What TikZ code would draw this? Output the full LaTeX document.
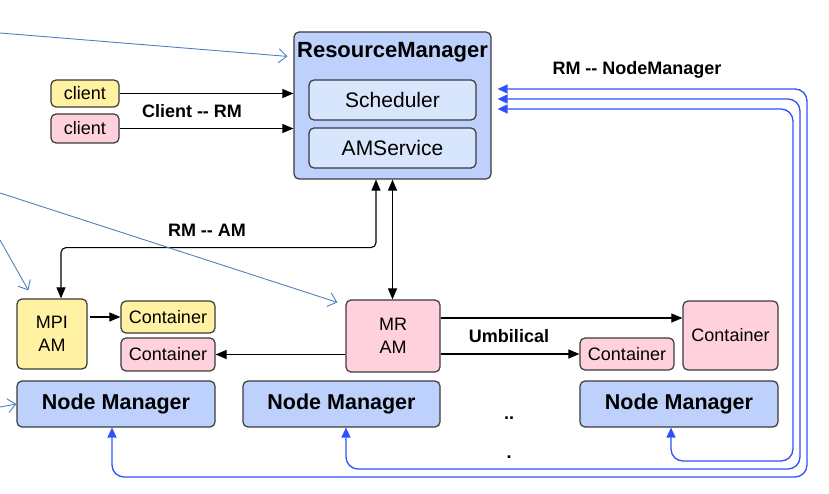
\documentclass[tikz,border=0pt]{standalone}
\usepackage{fontspec}
\setmainfont{Liberation Sans}
\usetikzlibrary{arrows.meta}
\definecolor{rmfill}{HTML}{BED0FC}
\definecolor{subfill}{HTML}{D8E6FD}
\definecolor{yel}{HTML}{FFF2A3}
\definecolor{pnk}{HTML}{FFD1DC}
\definecolor{bord}{HTML}{3A3A3A}
\definecolor{nmblue}{HTML}{2F50FF}
\definecolor{anno}{HTML}{4F81BD}
\begin{document}
\begin{tikzpicture}[x=1pt,y=-1pt,
  box/.style={draw=bord, line width=1.2pt, rounded corners=5pt, inner sep=0pt, align=center, anchor=center},
  rmbox/.style={box, fill=rmfill},
  subbox/.style={box, fill=subfill, font=\fontsize{21}{24}\selectfont},
  ybox/.style={box, fill=yel, font=\fontsize{18}{23}\selectfont},
  pbox/.style={box, fill=pnk, font=\fontsize{18}{23}\selectfont},
  nmbox/.style={box, fill=rmfill, font=\fontsize{21.5}{24}\selectfont\bfseries},
  lbl/.style={inner sep=0pt, font=\fontsize{18}{21}\selectfont\bfseries},
  arr/.style={draw=black, line width=1.1pt, -{Triangle[length=11pt,width=9pt]}},
  arrb/.style={draw=black, line width=1.1pt, {Triangle[length=11pt,width=9pt]}-{Triangle[length=11pt,width=9pt]}},
  bl/.style={draw=nmblue, line width=1.3pt, rounded corners=12pt, {Triangle[length=10pt,width=9pt]}-{Triangle[length=10pt,width=9pt]}},
  an/.style={draw=anno, line width=0.9pt, -{Straight Barb[length=8pt,width=14pt,line width=0.9pt]}}
]
\useasboundingbox (0,0) rectangle (829,494);

% ResourceManager
\node[rmbox, minimum width=197pt, minimum height=147pt] (rm) at (392.5,105.5) {};
\node[inner sep=0pt, font=\fontsize{22}{26}\selectfont\bfseries] (rmt) at (392.5,52) {ResourceManager};
\node[subbox, minimum width=167pt, minimum height=40pt] (sched) at (392.5,100) {Scheduler};
\node[subbox, minimum width=167pt, minimum height=40pt] (amsvc) at (392.5,148) {AMService};

% clients
\node[ybox, minimum width=68pt, minimum height=27pt] (c1) at (85,93.5) {client};
\node[pbox, minimum width=68pt, minimum height=29pt] (c2) at (85,128.5) {client};

% AMs and containers
\node[ybox, minimum width=70pt, minimum height=70pt] (mpi) at (52,334) {MPI\\AM};
\node[ybox, minimum width=94pt, minimum height=32pt] (cy) at (168,317) {Container};
\node[pbox, minimum width=94pt, minimum height=33pt] (cp) at (168,354.5) {Container};
\node[pbox, minimum width=94pt, minimum height=72pt] (mr) at (393,336) {MR\\AM};
\node[pbox, minimum width=94pt, minimum height=32pt] (cs) at (627,354) {Container};
\node[pbox, minimum width=95pt, minimum height=69pt] (cb) at (730.5,335.5) {Container};

% Node managers
\node[nmbox, minimum width=198pt, minimum height=46pt] (nm1) at (116,404) {Node Manager};
\node[nmbox, minimum width=197pt, minimum height=46pt] (nm2) at (341.5,404) {Node Manager};
\node[nmbox, minimum width=198pt, minimum height=46pt] (nm3) at (679,404) {Node Manager};

% labels
\node[lbl] (lcr) at (192,111) {Client -{}- RM};
\node[lbl] (lra) at (207,230) {RM -{}- AM};
\node[lbl] (lrn) at (637,70) {RM -{}- NodeManager};
\node[lbl] (lum) at (509,336) {Umbilical};
\node[lbl, anchor=base] (dots1) at (509,419) {..};
\node[lbl, anchor=base] (dots2) at (509,458) {.};

% client arrows
\draw[arr] (c1.east) -- (c1.east -| rm.west);
\draw[arr] (c2.east) -- (c2.east -| rm.west);

% RM -- AM
\draw[arrb, rounded corners=5pt] ([xshift=-16.5pt]rm.south) -- ++(0,68) -| ([xshift=9pt]mpi.north);
\draw[arrb] (rm.south) -- (rm.south |- mr.north);

% AM -> containers
\draw[arr] ([xshift=2pt]mpi.east |- cy.west) -- (cy.west);
\draw[arr] (mr.west |- cp.east) -- (cp.east);
\draw[arr] ([yshift=18pt]mr.east) -- ([yshift=18pt]mr.east -| cb.west);
\draw[arr] (mr.east |- cs.west) -- (cs.west);

% RM -- NodeManager
\coordinate (b1) at (807,477);
\coordinate (b2) at (800,469);
\coordinate (b3) at (793,461);
\draw[bl] ([xshift=-4pt]nm1.south) |- (b1) |- ([xshift=6pt,yshift=16.5pt]rm.east);
\draw[bl] ([xshift=4.5pt]nm2.south) |- (b2) |- ([xshift=6pt,yshift=6.5pt]rm.east);
\draw[bl] ([xshift=-8pt]nm3.south) |- (b3) |- ([xshift=6pt,yshift=-3.5pt]rm.east);

% annotation lines
\coordinate (a1) at (0,33);
\coordinate (a2) at (0,240);
\coordinate (a3) at (0,193);
\coordinate (a4) at (0,407);
\draw[an] (a1) -- ([xshift=-6pt,yshift=-25pt]rm.north west);
\draw[an] (a2) -- ([xshift=12pt,yshift=8pt]mpi.north west);
\draw[an] (a3) -- ([xshift=-8pt,yshift=-3pt]mr.north west);
\draw[an] (a4) -- (nm1.west);
\end{tikzpicture}
\end{document}
